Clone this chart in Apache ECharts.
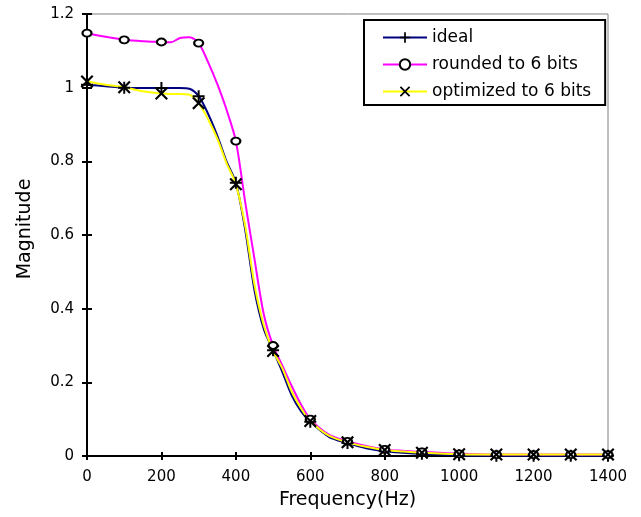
<!DOCTYPE html>
<html><head><meta charset="utf-8">
<script src="https://cdn.jsdelivr.net/npm/echarts@6/dist/echarts.min.js"></script>
<style>html,body{margin:0;padding:0;background:#fff}#c{width:641px;height:517px}</style>
</head><body><div id="c"></div>
<script>
const freq = [0,50,100,150,200,225,250,275,300,325,350,375,400,425,450,475,500,525,550,575,600,650,700,750,800,850,900,1000,1100,1200,1300,1400];
const ideal = [1.008,1.004,1.000,0.999,0.999,0.999,0.999,0.997,0.977,0.930,0.870,0.800,0.742,0.615,0.450,0.345,0.287,0.228,0.165,0.122,0.093,0.052,0.035,0.021,0.013,0.009,0.006,0.002,0.001,0.001,0.001,0.001];
const rounded = [1.148,1.138,1.130,1.126,1.124,1.123,1.135,1.137,1.121,1.070,1.010,0.940,0.855,0.690,0.535,0.385,0.300,0.245,0.190,0.140,0.100,0.058,0.040,0.027,0.018,0.014,0.011,0.006,0.004,0.004,0.004,0.004];
const optimized = [1.017,1.008,1.001,0.990,0.984,0.983,0.983,0.981,0.958,0.915,0.862,0.795,0.738,0.625,0.465,0.355,0.285,0.238,0.175,0.130,0.095,0.055,0.037,0.025,0.016,0.012,0.009,0.005,0.004,0.004,0.004,0.004];
const seriesNames = ['ideal','rounded to 6 bits','optimized to 6 bits'];
const xName = 'Frequency(Hz)';
const yName = 'Magnitude';

const FONT = 'DejaVu Sans';
const PLUS = 'path://M5,0H7V5H12V7H7V12H5V7H0V5H5Z';
const CROSS = 'path://M0,1.4L1.4,0L6,4.6L10.6,0L12,1.4L7.4,6L12,10.6L10.6,12L6,7.4L1.4,12L0,10.6L4.6,6Z';

function pts(vals){
  return freq.map((f,i)=> f%100===0 ? [f, vals[i]] : {value:[f, vals[i]], symbol:'none'});
}

const GRID = {left:87, right:33, top:14, bottom:61};
const W = 641, H = 517;
const plotW = W - GRID.left - GRID.right;
const plotH = H - GRID.top - GRID.bottom;

const chart = echarts.init(document.getElementById('c'), null, {renderer:'canvas'});
const axisX = {type:'value', min:0, max:1400, interval:200};
const axisY = {type:'value', min:0, max:1.2, interval:0.2};
const tickStyle = {color:'#000', width:2};
chart.setOption({
  animation:false,
  backgroundColor:'#fff',
  textStyle:{fontFamily:FONT, color:'#000'},
  grid:Object.assign({show:true, borderColor:'#808080', borderWidth:1}, GRID),
  legend:{
    orient:'vertical', left:364, top:20,
    padding:[9,14,5,18], itemGap:10, itemWidth:44, itemHeight:13,
    borderColor:'#000', borderWidth:2, backgroundColor:'#fff',
    textStyle:{fontFamily:FONT, fontSize:17, color:'#000'},
    data:seriesNames
  },
  xAxis:[
    Object.assign({}, axisX, {
      position:'bottom',
      name:xName, nameLocation:'middle', nameGap:35,
      nameTextStyle:{fontFamily:FONT, fontSize:19, color:'#000'},
      axisLine:{show:true, onZero:false, lineStyle:{color:'#000', width:2}},
      axisTick:{show:true, inside:false, length:4, lineStyle:tickStyle},
      axisLabel:{fontFamily:FONT, fontSize:15, color:'#000', margin:14, formatter:v=>String(v)},
      splitLine:{show:false}
    }),
    Object.assign({}, axisX, {
      position:'top', offset:-plotH,
      axisLine:{show:false, onZero:false}, axisLabel:{show:false}, splitLine:{show:false},
      axisTick:{show:true, inside:false, length:4, lineStyle:tickStyle}
    })
  ],
  yAxis:[
    Object.assign({}, axisY, {
      position:'left',
      name:yName, nameLocation:'middle', nameGap:52, nameRotate:90,
      nameTextStyle:{fontFamily:FONT, fontSize:19, color:'#000', padding:[0,0,0,12]},
      axisLine:{show:true, onZero:false, lineStyle:{color:'#000', width:2}},
      axisTick:{show:true, inside:false, length:5, lineStyle:tickStyle},
      axisLabel:{fontFamily:FONT, fontSize:15, color:'#000', margin:13},
      splitLine:{show:false}
    }),
    Object.assign({}, axisY, {
      position:'right', offset:-plotW,
      axisLine:{show:false, onZero:false}, axisLabel:{show:false}, splitLine:{show:false},
      axisTick:{show:true, inside:false, length:5, lineStyle:tickStyle}
    })
  ],
  series:[
    {name:seriesNames[0], type:'line', data:pts(ideal), smooth:0.3,
     symbol:PLUS, symbolSize:12,
     lineStyle:{color:'#000080', width:2}, itemStyle:{color:'#000'}},
    {name:seriesNames[1], type:'line', data:pts(rounded), smooth:0.3,
     symbol:'circle', symbolSize:[9,7],
     lineStyle:{color:'#ff00ff', width:2}, itemStyle:{color:'#fff', borderColor:'#000', borderWidth:2}},
    {name:seriesNames[2], type:'line', data:pts(optimized), smooth:0.3,
     symbol:CROSS, symbolSize:13,
     lineStyle:{color:'#ffff00', width:2}, itemStyle:{color:'#000'}}
  ]
});
</script></body></html>
